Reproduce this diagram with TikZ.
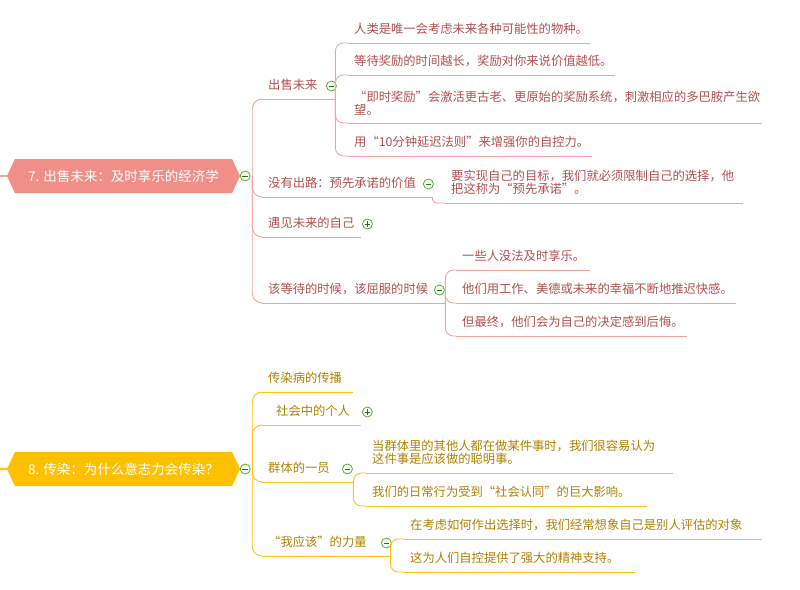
\documentclass[tikz,border=0pt]{standalone}
\usepackage{fontspec}
\newfontfamily\cjk{Noto Sans CJK SC}
\usepackage{tikz}
\usetikzlibrary{shapes.symbols}
\definecolor{linepink}{RGB}{242,164,156}
\definecolor{fillpink}{RGB}{239,143,136}
\definecolor{textpink}{RGB}{176,80,78}
\definecolor{linegold}{RGB}{255,194,14}
\definecolor{fillgold}{RGB}{255,192,0}
\definecolor{textgold}{RGB}{176,128,0}
\definecolor{foldgreen}{RGB}{90,170,60}

\begin{document}
\begin{tikzpicture}[x=1pt,y=-1pt]
\tikzset{rootbox/.style={shape=signal, signal to=west and east, signal pointer angle=130,
  minimum width=233pt, minimum height=34pt, inner sep=0pt, text=white,
  font=\cjk\fontsize{13.5}{15}\selectfont}}
\tikzset{leaf/.style={anchor=south west, inner xsep=6pt, inner ysep=8pt, align=left,
  font=\cjk\fontsize{12.3}{13}\selectfont}}
\tikzstyle{pinkleaf}=[leaf, text=textpink]
\tikzstyle{goldleaf}=[leaf, text=textgold]
\tikzstyle{pinklink}=[draw=linepink, line width=0.9pt, rounded corners=8pt]
\tikzstyle{goldlink}=[draw=linegold, line width=0.9pt, rounded corners=8pt]
\tikzset{fold/.style={circle, draw=foldgreen, fill=green!6, line width=0.8pt,
  inner sep=0pt, minimum size=10pt}}
\tikzset{foldminus/.style={fold, path picture={
  \draw[foldgreen!60!black, line width=0.9pt] ([xshift=-2.8pt]path picture bounding box.center)
    -- ([xshift=2.8pt]path picture bounding box.center);}}}
\tikzset{foldplus/.style={fold, path picture={
  \draw[foldgreen!60!black, line width=0.9pt] ([xshift=-2.8pt]path picture bounding box.center)
    -- ([xshift=2.8pt]path picture bounding box.center);
  \draw[foldgreen!60!black, line width=0.9pt] ([yshift=-2.8pt]path picture bounding box.center)
    -- ([yshift=2.8pt]path picture bounding box.center);}}}

\useasboundingbox (0,0) rectangle (800,589);

% 7
\node[rootbox, fill=fillpink] (r1) at (123.5,176) {7. 出售未来：及时享乐的经济学};
\node[foldminus] (f1) at ([xshift=5pt]r1.east) {};
\coordinate (s1) at (0,176);
\coordinate (r1o) at ([xshift=12pt]r1.east);
\draw[linepink, line width=1.6pt] (s1) -- (r1.west);

\node[pinkleaf, text width=61pt] (t11) at (262,99) {出售未来};
\node[pinkleaf, text width=158pt] (t12) at (262,197) {没有出路：预先承诺的价值};
\node[pinkleaf, text width=87pt] (t13) at (262,237) {遇见未来的自己};
\node[pinkleaf, text width=171pt] (t14) at (262,303) {该等待的时候，该屈服的时候};
\node[foldminus] (f11) at ([xshift=-4pt,yshift=13pt]t11.south east) {};
\node[foldminus] (f12) at ([xshift=-4pt,yshift=13pt]t12.south east) {};
\node[foldplus] (f13) at ([xshift=6pt,yshift=13pt]t13.south east) {};
\node[foldminus] (f14) at ([xshift=-6pt,yshift=13pt]t14.south east) {};

\node[pinkleaf, text width=230pt] (l111) at (348,43) {人类是唯一会考虑未来各种可能性的物种。};
\node[pinkleaf, text width=255pt] (l112) at (348,75) {等待奖励的时间越长，奖励对你来说价值越低。};
\node[pinkleaf, text width=402pt] (l113) at (348,123) {“即时奖励”会激活更古老、更原始的奖励系统，刺激相应的多巴胺产生欲\\望。};
\node[pinkleaf, text width=232pt] (l114) at (348,156) {用“10分钟延迟法则”来增强你的自控力。};
\node[pinkleaf, text width=286pt] (l121) at (445,203) {要实现自己的目标，我们就必须限制自己的选择，他\\把这称为“预先承诺”。};
\node[pinkleaf, text width=122pt] (l141) at (456,270) {一些人没法及时享乐。};
\node[pinkleaf, text width=268pt] (l142) at (456,303) {他们用工作、美德或未来的幸福不断地推迟快感。};
\node[pinkleaf, text width=219pt] (l143) at (456,336) {但最终，他们会为自己的决定感到后悔。};

\foreach \n in {t11,t12,t13,t14,l111,l112,l113,l114,l121,l141,l142,l143}
  \draw[linepink, line width=0.9pt] (\n.south west) -- (\n.south east);
\foreach \n in {t11,t12,t13,t14}
  \draw[pinklink, rounded corners=10pt] (r1o) |- (\n.south west);
\foreach \n in {l111,l112,l113,l114}
  \draw[pinklink] (t11.south east) |- (\n.south west);
\draw[pinklink, rounded corners=4pt] (t12.south east) |- (l121.south west);
\foreach \n in {l141,l142,l143}
  \draw[pinklink] (t14.south east) |- (\n.south west);

% 8
\node[rootbox, fill=fillgold] (r2) at (123.5,469) {8. 传染：为什么意志力会传染？};
\node[foldminus] (f2) at ([xshift=5pt]r2.east) {};
\coordinate (s2) at (0,469);
\coordinate (r2o) at ([xshift=12pt]r2.east);
\draw[linegold, line width=1.6pt] (s2) -- (r2.west);

\node[goldleaf, text width=79pt] (t21) at (262,392) {传染病的传播};
\node[goldleaf, text width=87pt] (t22) at (262,425) {\hspace*{8pt}社会中的个人};
\node[goldleaf, text width=79pt] (t23) at (262,482) {群体的一员};
\node[goldleaf, text width=116pt] (t24) at (262,556) {“我应该”的力量};
\node[foldplus] (f22) at ([xshift=6pt,yshift=13pt]t22.south east) {};
\node[foldminus] (f23) at ([xshift=-6pt,yshift=13pt]t23.south east) {};
\node[foldminus] (f24) at ([xshift=-4pt,yshift=13pt]t24.south east) {};

\node[goldleaf, text width=295pt] (l231) at (366,473) {当群体里的其他人都在做某件事时，我们很容易认为\\这件事是应该做的聪明事。};
\node[goldleaf, text width=269pt] (l232) at (366,506) {我们的日常行为受到“社会认同”的巨大影响。};
\node[goldleaf, text width=346pt] (l241) at (404,539) {在考虑如何作出选择时，我们经常想象自己是别人评估的对象};
\node[goldleaf, text width=219pt] (l242) at (404,572) {这为人们自控提供了强大的精神支持。};

\foreach \n in {t21,t22,t23,t24,l231,l232,l241,l242}
  \draw[linegold, line width=0.9pt] (\n.south west) -- (\n.south east);
\foreach \n in {t21,t22,t23,t24}
  \draw[goldlink, rounded corners=10pt] (r2o) |- (\n.south west);
\foreach \n in {l231,l232}
  \draw[goldlink] (t23.south east) |- (\n.south west);
\foreach \n in {l241,l242}
  \draw[goldlink] (t24.south east) |- (\n.south west);
\end{tikzpicture}
\end{document}
